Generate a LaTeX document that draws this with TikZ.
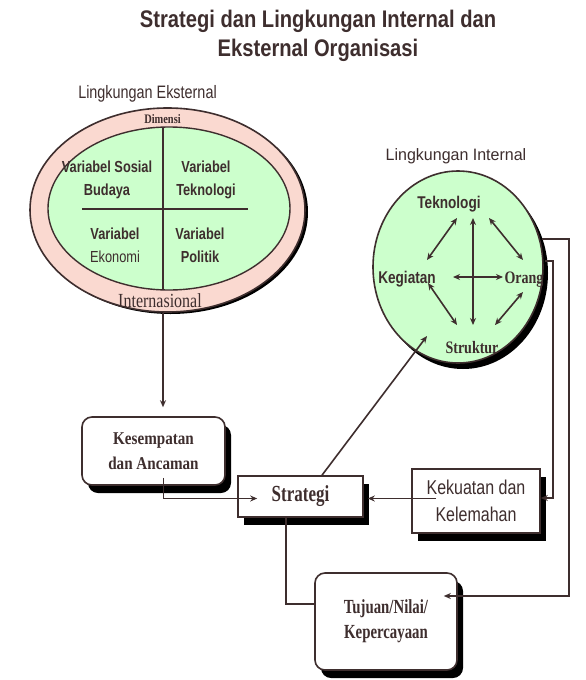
\documentclass[tikz,border=0pt]{standalone}
\usepackage{fontspec}
\setmainfont{Liberation Sans}
\newfontfamily\ttlfont[FakeStretch=0.84]{Liberation Sans}
\newfontfamily\narsans[FakeStretch=0.8]{Liberation Sans}
\newfontfamily\widesans[FakeStretch=0.97]{Liberation Sans}
\newfontfamily\narserif[FakeStretch=0.8]{Liberation Serif}
\newfontfamily\bserif[FakeStretch=0.74]{Liberation Serif}
\newfontfamily\midserif[FakeStretch=0.84]{Liberation Serif}
\usetikzlibrary{shapes.geometric,arrows.meta,shadows}
\definecolor{ink}{RGB}{62,46,46}
\definecolor{ringpink}{RGB}{250,217,208}
\definecolor{mint}{RGB}{204,255,204}
\tikzset{
  lab/.style={text=ink, inner sep=0pt, anchor=base},
  conn/.style={draw=ink, line width=1.6pt},
  arr/.style={conn, -{Stealth[length=7pt,width=6pt]}},
  dbl/.style={conn, {Stealth[length=7pt,width=6pt]}-{Stealth[length=7pt,width=6pt]}},
  boxsq/.style={draw=ink, line width=1.6pt, fill=white, inner sep=0pt, text=ink, align=center,
    drop shadow={shadow xshift=6pt, shadow yshift=-8pt, fill=black, opacity=1}},
  boxrd/.style={boxsq, rounded corners=10pt},
}
\begin{document}
\begin{tikzpicture}[x=1pt,y=-1pt]
\useasboundingbox[fill=white] (0,0) rectangle (586,680);

% title
\node[lab, anchor=center, align=center, font=\ttlfont\bfseries\fontsize{24}{29}\selectfont] (title) at (318,36.3)
  {Strategi dan Lingkungan Internal dan\\Eksternal Organisasi};

% external environment
\node[lab, font=\narsans\fontsize{18}{20}\selectfont] (lekst) at (147.5,98) {Lingkungan Eksternal};
\node[ellipse, draw=ink, line width=1.6pt, fill=ringpink, minimum width=275pt, minimum height=204pt, inner sep=0pt,
  drop shadow={shadow xshift=3pt, shadow yshift=-2pt, fill=black, opacity=1}] (outer) at (167.5,210) {};
\node[ellipse, draw=ink, line width=1.4pt, fill=mint, minimum width=242pt, minimum height=163pt, inner sep=0pt] (inner) at (169,208.5) {};
\draw[conn] (163,127.3) -- (163,289.8);
\draw[conn] (82,209) -- (248,209);
\node[lab, font=\narserif\bfseries\fontsize{13}{15}\selectfont] (dim) at (162.5,123) {Dimensi};
\node[lab, font=\narserif\fontsize{20}{22}\selectfont] (intl) at (160,307) {Internasional};
\node[lab, anchor=center, align=center, font=\narsans\bfseries\fontsize{16}{23}\selectfont] (q1) at (107,179.5) {Variabel Sosial\\Budaya};
\node[lab, anchor=center, align=center, font=\narsans\bfseries\fontsize{16}{23}\selectfont] (q2) at (206,179.5) {Variabel\\Teknologi};
\node[lab, anchor=center, align=center, font=\narsans\bfseries\fontsize{16}{23}\selectfont] (q3) at (115,245.7) {Variabel\\{\mdseries Ekonomi}};
\node[lab, anchor=center, align=center, font=\narsans\bfseries\fontsize{16}{23}\selectfont] (q4) at (200,245.7) {Variabel\\Politik};

% internal environment
\node[lab, font=\widesans\fontsize{16.5}{18}\selectfont] (lint) at (456,160) {Lingkungan Internal};
\node[ellipse, draw=ink, line width=1.6pt, fill=mint, minimum width=170pt, minimum height=192pt, inner sep=0pt,
  drop shadow={shadow xshift=5pt, shadow yshift=-6pt, fill=black, opacity=1}] (intc) at (458,267) {};
\node[lab, font=\narsans\bfseries\fontsize{17}{19}\selectfont] (tek) at (449,208) {Teknologi};
\node[lab, font=\narsans\bfseries\fontsize{17}{19}\selectfont] (keg) at (407,283) {Kegiatan};
\node[lab, font=\narserif\bfseries\fontsize{17.5}{19}\selectfont] (org) at (524,283) {Orang};
\node[lab, font=\narserif\bfseries\fontsize{17.5}{19}\selectfont] (str) at (472,353) {Struktur};

\draw[dbl] ([shift={(8pt,-10pt)}]tek.base) -- ([shift={(20pt,23pt)}]keg.base);
\draw[dbl] ([shift={(40pt,-10pt)}]tek.base) -- ([shift={(-1pt,23pt)}]org.base);
\draw[dbl] ([shift={(24pt,-10pt)}]tek.base) -- ([shift={(1pt,28pt)}]str.base);
\draw[dbl] ([shift={(46pt,6pt)}]keg.base) -- ([shift={(-21pt,6pt)}]org.base);
\draw[dbl] ([shift={(21pt,0pt)}]keg.base) -- ([shift={(-15pt,28pt)}]str.base);
\draw[dbl] ([shift={(-1pt,-9pt)}]org.base) -- ([shift={(23pt,28pt)}]str.base);

% boxes
\node[boxrd, minimum width=143pt, minimum height=68pt, font=\midserif\bfseries\fontsize{18}{25}\selectfont] (kes) at (153.5,451) {Kesempatan\\dan Ancaman};
\node[boxsq, minimum width=125pt, minimum height=41pt, font=\bserif\bfseries\fontsize{23}{25}\selectfont] (strat) at (300.5,496.5) {Strategi};
\node[boxsq, minimum width=128pt, minimum height=64pt, font=\narsans\fontsize{20}{27}\selectfont] (kek) at (476,501) {Kekuatan dan\\Kelemahan};
\node[boxrd, minimum width=142pt, minimum height=97pt, font=\bserif\bfseries\fontsize{20}{25}\selectfont] (tuj) at (386,621.5) {Tujuan/Nilai/\\Kepercayaan};

% connectors
\draw[arr] ([xshift=-4.5pt]outer.south) -- ([shift={(9.5pt,9pt)}]kes.north);
\draw[arr] ([shift={(10pt,8pt)}]kes.south) |- ([shift={(20pt,-2pt)}]strat.west);
\draw[arr] ([shift={(25pt,2.5pt)}]kek.west) -- ([shift={(4pt,-2pt)}]strat.east);
\draw[conn] ([xshift=-14.5pt]strat.south) |- ([yshift=17.5pt]tuj.west);
\coordinate (sTip) at (427,336);
\draw[arr] ([xshift=21.5pt]strat.north) -- (sTip);
\coordinate (c1) at (542,239);
\coordinate (c2) at (545,261);
\draw[arr] (c1) -- ++(27,0) |- ([shift={(-14pt,25.5pt)}]tuj.east);
\draw[arr] (c2) -- ++(8,0) |- ([yshift=3pt]kek.east);
\end{tikzpicture}
\end{document}
